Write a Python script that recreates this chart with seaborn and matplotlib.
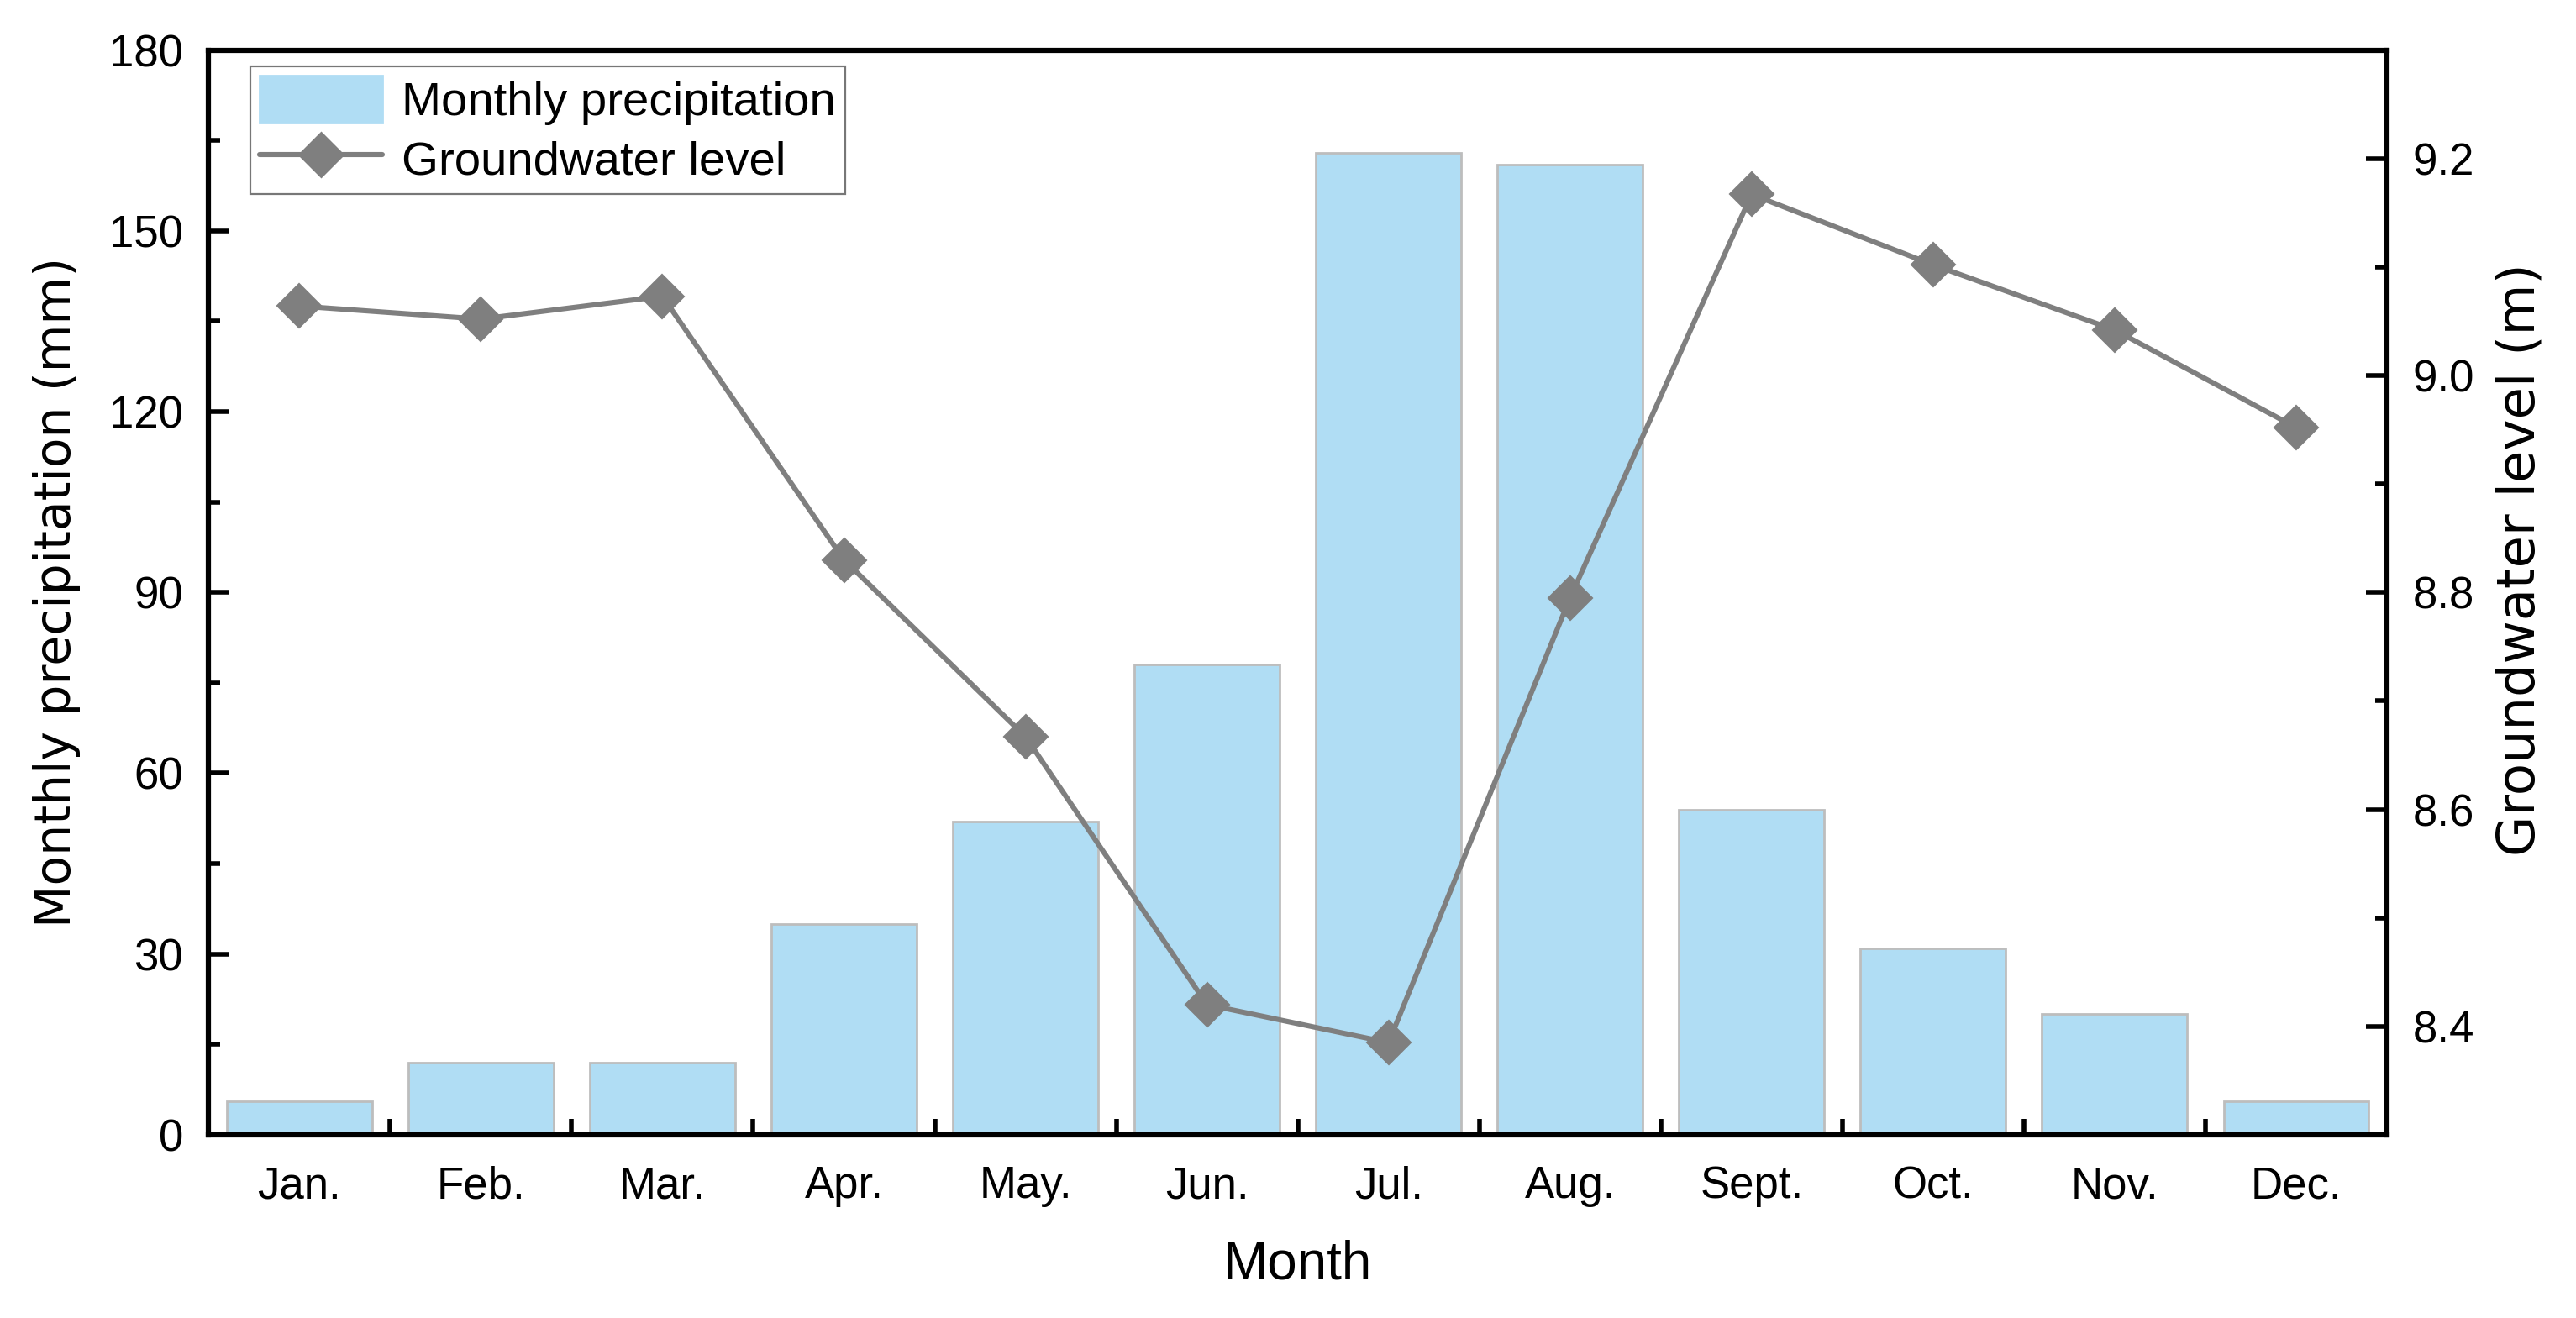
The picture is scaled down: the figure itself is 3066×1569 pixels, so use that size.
import numpy as np
import pandas as pd
import matplotlib
matplotlib.use("Agg")
import matplotlib.pyplot as plt
from matplotlib.ticker import MultipleLocator, FixedLocator
from matplotlib.patches import Patch
from matplotlib.lines import Line2D
import seaborn as sns

months = ["Jan.", "Feb.", "Mar.", "Apr.", "May.", "Jun.", "Jul.", "Aug.", "Sept.", "Oct.", "Nov.", "Dec."]
precip = [5.5, 12, 12, 35, 52, 78, 163, 161, 54, 31, 20, 5.5]
gw_level = [9.064, 9.052, 9.073, 8.830, 8.667, 8.420, 8.385, 8.795, 9.167, 9.102, 9.042, 8.952]

sns.set_theme(style="white")
plt.rcParams['font.family'] = ['Liberation Sans', 'DejaVu Sans']
plt.rcParams.update({"text.color": "black", "axes.labelcolor": "black",
                     "xtick.color": "black", "ytick.color": "black"})

df = pd.DataFrame({"Month": months, "Precip": precip, "GW": gw_level, "idx": np.arange(len(months))})

fig = plt.figure(figsize=(15.33, 7.845), dpi=200)
ax = fig.add_axes([0.081, 0.139, 0.8456, 0.823])

bar_color = "#B0DDF4"
line_color = "#7F7F7F"

sns.barplot(data=df, x="Month", y="Precip", ax=ax, color=bar_color, width=0.8,
            edgecolor="#BDBDBD", linewidth=1.0, saturation=1)

ax.set_xlim(-0.5, len(months) - 0.5)
ax.set_ylim(0, 180)
ax.yaxis.set_major_locator(MultipleLocator(30))
ax.yaxis.set_minor_locator(MultipleLocator(15))

ax2 = ax.twinx()
sns.lineplot(data=df, x="idx", y="GW", ax=ax2, color=line_color, linewidth=2.2,
             marker="D", markersize=13, markeredgecolor=line_color, markerfacecolor=line_color)
ax2.set_xlim(-0.5, len(months) - 0.5)
ax2.set_ylim(8.3, 9.3)
ax2.yaxis.set_major_locator(FixedLocator([8.4, 8.6, 8.8, 9.0, 9.2]))
ax2.yaxis.set_minor_locator(FixedLocator([8.5, 8.7, 8.9, 9.1]))
ax2.yaxis.set_major_formatter(matplotlib.ticker.FormatStrFormatter("%.1f"))

ax.set_xticks(np.arange(len(months)))
ax.set_xticklabels(months)
ax.xaxis.set_minor_locator(FixedLocator(np.arange(0.5, len(months) - 0.5, 1)))
ax.tick_params(axis="x", which="major", length=0, pad=13, labelsize=19)
ax.tick_params(axis="x", which="minor", direction="in", length=7, width=2.0, bottom=True)

ax.tick_params(axis="y", which="major", direction="in", length=9, width=2.0, labelsize=19, left=True, pad=11)
ax.tick_params(axis="y", which="minor", direction="in", length=5, width=2.0, left=True)
ax2.tick_params(axis="y", which="major", direction="in", length=9, width=2.0, labelsize=19, right=True, pad=11)
ax2.tick_params(axis="y", which="minor", direction="in", length=5, width=2.0, right=True)
ax2.tick_params(axis="x", which="both", bottom=False, top=False, labelbottom=False)

for a in (ax, ax2):
    for s in a.spines.values():
        s.set_linewidth(2.2)
        s.set_color("black")

ax.set_xlabel("Month", fontsize=23, labelpad=14)
ax.set_ylabel("Monthly precipitation (mm)", fontsize=21, family="DejaVu Sans", labelpad=12)
ax2.set_ylabel("Groundwater level (m)", fontsize=22.5, family="DejaVu Sans", labelpad=9)
ax2.yaxis.label.set_y(0.53)

handles = [Patch(facecolor=bar_color, edgecolor=bar_color),
           Line2D([0], [0], color=line_color, linewidth=2.2, marker="D", markersize=13,
                  markerfacecolor=line_color, markeredgecolor=line_color)]
leg = ax2.legend(handles, ["Monthly precipitation", "Groundwater level"], loc="upper left",
                 bbox_to_anchor=(0.019, 0.985), fontsize=20.3, frameon=True, fancybox=False,
                 handlelength=2.6, handleheight=1.15, borderpad=0.2, labelspacing=0.2,
                 handletextpad=0.4, borderaxespad=0.0)
leg.get_frame().set_edgecolor("#555555")
leg.get_frame().set_linewidth(0.8)
for t in leg.get_texts():
    t.set_color("black")

fig.savefig("out.png", dpi=200)
